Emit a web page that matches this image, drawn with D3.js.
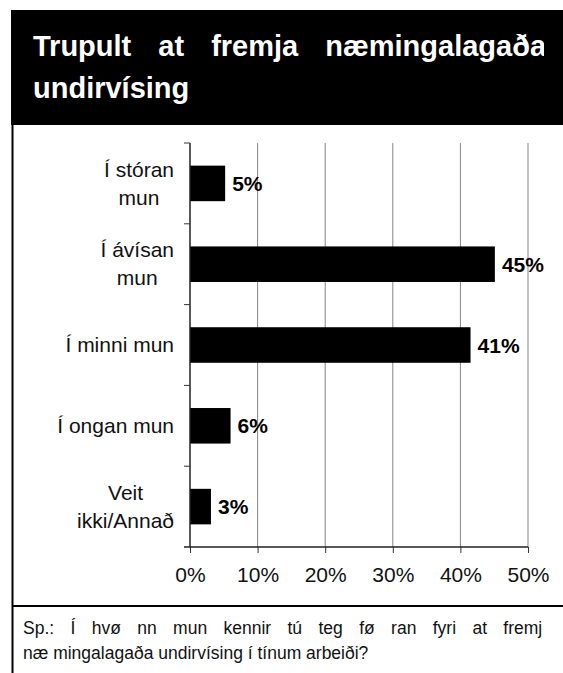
<!DOCTYPE html>
<html>
<head>
<meta charset="utf-8">
<script src="https://cdn.jsdelivr.net/npm/d3@7"></script>
<style>
  body { margin: 0; background: #fff; }
  svg { display: block; font-family: "Liberation Sans", Arial, sans-serif; }
</style>
</head>
<body>
<svg width="563" height="673"></svg>
<script>
  // chart data
  const categories = [['Í stóran', 'mun'], ['Í ávísan', 'mun'], ['Í minni mun'], ['Í ongan mun'], ['Veit', 'ikki/Annað']];
  const values = [5.2, 45.1, 41.5, 6.0, 3.1];
  const valueLabels = ['5%', '45%', '41%', '6%', '3%'];
  const xTicks = [0, 10, 20, 30, 40, 50];
  const titleLines = ['Trupult at fremja næmingalagaða', 'undirvísing'];
  const noteLines = ['Sp.: Í hvø nn mun kennir tú teg fø ran fyri at fremj', 'næ mingalagaða undirvísing í tínum arbeiði?'];

  const svg = d3.select('svg');
  const defs = svg.append('defs');

  // header block
  svg.append('rect')
    .attr('x', 11).attr('y', 10)
    .attr('width', 552).attr('height', 115)
    .attr('fill', '#000');

  defs.append('clipPath').attr('id', 'titleClip')
    .append('rect').attr('x', 11).attr('y', 10).attr('width', 533).attr('height', 115);

  svg.append('g').attr('clip-path', 'url(#titleClip)')
    .selectAll('text').data(titleLines)
    .enter().append('text')
    .attr('x', 33)
    .attr('y', (d, i) => 56 + i * 42)
    .attr('fill', '#fff')
    .attr('font-size', 29)
    .attr('font-weight', 'bold')
    .attr('word-spacing', (d, i) => i === 0 ? 19 : 0)
    .text(d => d);

  // frame lines
  svg.append('line')
    .attr('x1', 12.5).attr('x2', 12.5).attr('y1', 125).attr('y2', 673)
    .attr('stroke', '#000').attr('stroke-width', 2);
  svg.append('line')
    .attr('x1', 12).attr('x2', 563).attr('y1', 606).attr('y2', 606)
    .attr('stroke', '#000').attr('stroke-width', 2);

  // plot
  const margin = { top: 143, left: 190 };
  const innerWidth = 338;
  const innerHeight = 404;

  const g = svg.append('g')
    .attr('transform', `translate(${margin.left}, ${margin.top})`);

  const xScale = d3.scaleLinear()
    .domain([0, 50])
    .range([0, innerWidth]);

  const yScale = d3.scaleBand()
    .domain(d3.range(categories.length))
    .range([0, innerHeight])
    .paddingInner(0.56)
    .paddingOuter(0.28);

  // gridlines
  g.selectAll('.grid').data(xTicks.slice(1))
    .enter().append('line')
    .attr('class', 'grid')
    .attr('x1', d => xScale(d)).attr('x2', d => xScale(d))
    .attr('y1', 0).attr('y2', innerHeight)
    .attr('stroke', '#858585')
    .attr('stroke-width', 1);

  // bars
  g.selectAll('.bar').data(values)
    .enter().append('rect')
    .attr('class', 'bar')
    .attr('x', 0)
    .attr('y', (d, i) => yScale(i))
    .attr('width', d => xScale(d))
    .attr('height', yScale.bandwidth())
    .attr('fill', '#000');

  g.selectAll('.val').data(values)
    .enter().append('text')
    .attr('class', 'val')
    .attr('x', d => xScale(d) + 7)
    .attr('y', (d, i) => yScale(i) + yScale.bandwidth() / 2)
    .attr('dy', '0.36em')
    .attr('font-size', 21)
    .attr('font-weight', 'bold')
    .text((d, i) => valueLabels[i]);

  // x axis
  const xAxis = d3.axisBottom(xScale)
    .tickValues(xTicks)
    .tickSize(6)
    .tickSizeOuter(0)
    .tickPadding(14)
    .tickFormat(d => d + '%');

  const xAxisG = g.append('g')
    .attr('transform', `translate(0, ${innerHeight})`)
    .call(xAxis);
  xAxisG.select('.domain').remove();
  xAxisG.selectAll('.tick line').attr('stroke', '#333');
  xAxisG.selectAll('.tick text')
    .attr('font-size', 21)
    .attr('font-family', '"Liberation Sans", Arial, sans-serif')
    .attr('fill', '#111');
  xAxisG.append('line')
    .attr('x1', -6).attr('x2', innerWidth)
    .attr('stroke', '#222').attr('stroke-width', 1.5);

  // y axis: line with ticks at category boundaries
  const step = yScale.step();
  g.append('line')
    .attr('x1', 0).attr('x2', 0).attr('y1', 0).attr('y2', innerHeight)
    .attr('stroke', '#222').attr('stroke-width', 1.5);
  g.selectAll('.ytick').data(d3.range(0, categories.length))
    .enter().append('line')
    .attr('class', 'ytick')
    .attr('x1', -6).attr('x2', 0)
    .attr('y1', d => d * step).attr('y2', d => d * step)
    .attr('stroke', '#333');

  // category labels, lines centred on each other, right edge at -16
  const labelRight = -16;
  const catG = g.selectAll('.cat').data(categories)
    .enter().append('text')
    .attr('class', 'cat')
    .attr('text-anchor', 'middle')
    .attr('font-size', 21)
    .attr('fill', '#111');
  catG.selectAll('tspan').data((d, i) => d.map((t, j) => ({ t, j, n: d.length, i })))
    .enter().append('tspan')
    .attr('x', 0)
    .attr('y', d => yScale(d.i) + yScale.bandwidth() / 2 + (d.j - (d.n - 1) / 2) * 28)
    .attr('dy', '0.34em')
    .text(d => d.t);
  catG.each(function () {
    const w = this.getBBox().width;
    d3.select(this).attr('transform', `translate(${labelRight - w / 2}, 0)`);
  });

  // footnote
  defs.append('clipPath').attr('id', 'noteClip')
    .append('rect').attr('x', 12).attr('y', 607).attr('width', 530).attr('height', 66);

  svg.append('g').attr('clip-path', 'url(#noteClip)')
    .selectAll('text').data(noteLines)
    .enter().append('text')
    .attr('x', 23)
    .attr('y', (d, i) => 634 + i * 25)
    .attr('font-size', 17.5)
    .attr('fill', '#111')
    .attr('word-spacing', (d, i) => i === 0 ? 11.5 : 0)
    .text(d => d);
</script>
</body>
</html>
